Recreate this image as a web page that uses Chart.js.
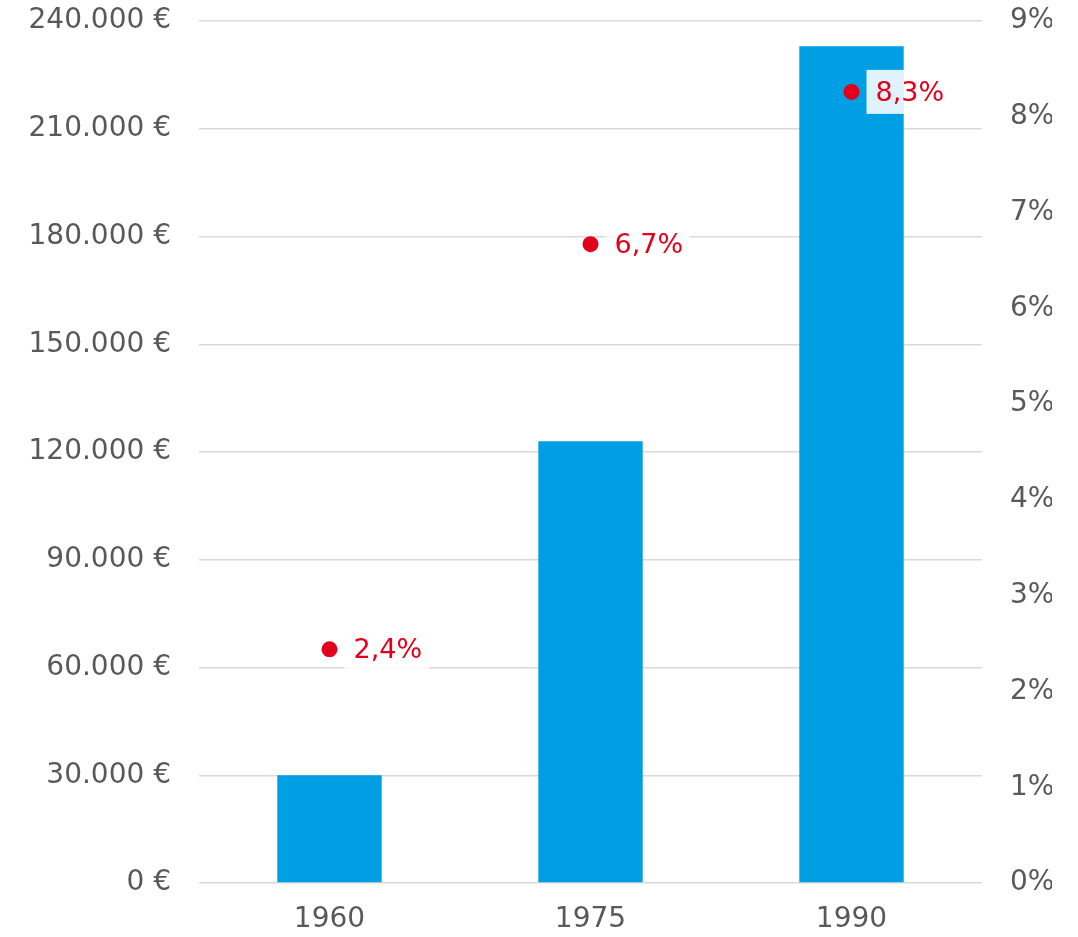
<!DOCTYPE html>
<html>
<head>
<meta charset="utf-8">
<script src="https://cdn.jsdelivr.net/npm/chart.js@4/dist/chart.umd.min.js"></script>
<style>
  body { margin: 0; background: #fff; }
  #wrap { width: 1078px; height: 937px; }
</style>
</head>
<body>
<div id="wrap"><canvas id="chart" width="1078" height="937"></canvas></div>
<script>
const years = ['1960', '1975', '1990'];
const amounts = [30000, 123000, 233000];
const rates = [2.44, 6.67, 8.26];
const euroTicks = [0, 30000, 60000, 90000, 120000, 150000, 180000, 210000, 240000];
const percentTicks = [0, 1, 2, 3, 4, 5, 6, 7, 8, 9];

const FONT = '"DejaVu Sans", Verdana, sans-serif';
const RED = '#E2001A';
const BLUE = '#009FE3';
const GREY = '#595959';

function euro(v) {
    return String(v).replace(/\B(?=(\d{3})+(?!\d))/g, '.') + ' €';
}

// labels next to the red points, on a half transparent white box
const rateLabels = {
    id: 'rateLabels',
    afterDatasetsDraw(chart) {
        const ctx = chart.ctx;
        const meta = chart.getDatasetMeta(1);
        ctx.save();
        ctx.font = '27px ' + FONT;
        ctx.textBaseline = 'middle';
        meta.data.forEach((pt, i) => {
            const txt = rates[i].toFixed(1).replace('.', ',') + '%';
            const w = ctx.measureText(txt).width;
            ctx.fillStyle = 'rgba(255,255,255,0.87)';
            ctx.fillRect(pt.x + 15, pt.y - 22, w + 16, 44);
            ctx.fillStyle = RED;
            ctx.fillText(txt, pt.x + 24, pt.y + 2);
        });
        ctx.restore();
    }
};

function fixY(width) {
    return s => { s.width = width; s.paddingTop = 0; s.paddingBottom = 0; };
}

new Chart(document.getElementById('chart').getContext('2d'), {
    data: {
        labels: years,
        datasets: [
            { type: 'bar', data: amounts, backgroundColor: BLUE, yAxisID: 'y', order: 1,
              barPercentage: 0.4, categoryPercentage: 1 },
            { type: 'line', data: rates, yAxisID: 'y1', order: 0, showLine: false,
              pointRadius: 8, pointBackgroundColor: RED, pointBorderWidth: 0 }
        ]
    },
    options: {
        responsive: false,
        animation: false,
        layout: { padding: { left: 25, right: 26, top: 21, bottom: 0 } },
        plugins: { legend: { display: false }, tooltip: { enabled: false } },
        scales: {
            x: {
                afterFit: s => { s.height = 54; },
                grid: { display: false, drawTicks: false },
                border: { display: false },
                ticks: { color: GREY, font: { family: FONT, size: 28 }, padding: 20 }
            },
            y: {
                position: 'left',
                min: 0, max: 240000,
                afterBuildTicks: s => { s.ticks = euroTicks.map(v => ({ value: v })); },
                afterFit: fixY(174),
                grid: { color: '#d9d9d9', lineWidth: 1.5, drawTicks: false },
                border: { display: false },
                ticks: { color: GREY, font: { family: FONT, size: 28 }, padding: 28, callback: v => euro(v) }
            },
            y1: {
                position: 'right',
                min: 0, max: 9,
                afterBuildTicks: s => { s.ticks = percentTicks.map(v => ({ value: v })); },
                afterFit: fixY(70),
                grid: { display: false, drawTicks: false },
                border: { display: false },
                ticks: { color: GREY, font: { family: FONT, size: 28 }, padding: 28, callback: v => v + '%' }
            }
        }
    },
    plugins: [rateLabels]
});
</script>
</body>
</html>
